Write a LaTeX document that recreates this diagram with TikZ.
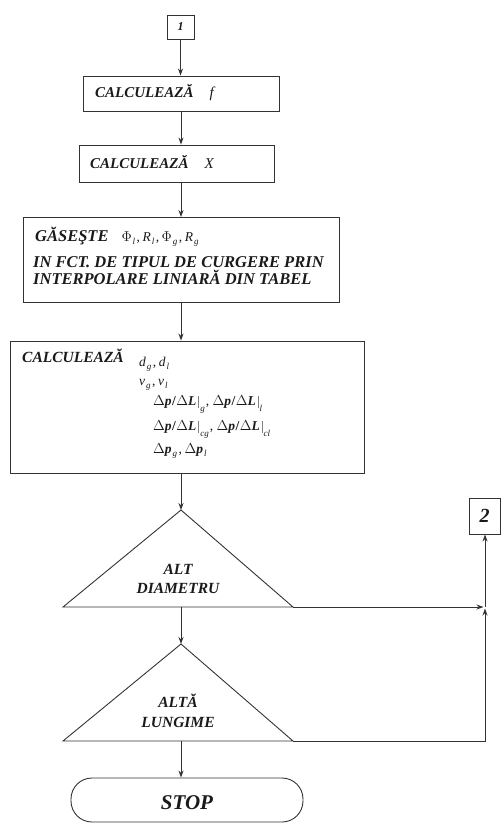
\documentclass[tikz,border=0pt]{standalone}
\usepackage{fontspec}
\setmainfont{Liberation Serif}
\usetikzlibrary{arrows.meta}
\definecolor{ln}{HTML}{333333}
\definecolor{tx}{HTML}{1A1A1A}
\newcommand{\sbx}[1]{\kern1pt\raisebox{-0.6ex}{\fontsize{9}{9}\selectfont\itshape #1}}
\newcommand{\sbl}[1]{\kern1.5pt\raisebox{-1.1ex}{\fontsize{9}{9}\selectfont\itshape #1}}
\newcommand{\cmm}{\kern1.5pt,\kern2.5pt}
\newcommand{\vbar}{{\color{gray}\rule[-3pt]{0.4pt}{12pt}}}
\newcommand{\dpl}{{\bfseries $\Delta$\textit{p}\kern0.5pt/\kern0.5pt$\Delta$\textit{L}}\kern2pt\vbar}
\begin{document}
\begin{tikzpicture}[x=1pt,y=-1pt,
  box/.style={draw=ln,line width=0.9pt,rectangle,inner sep=0pt},
  arr/.style={draw=ln,line width=0.9pt,-{Stealth[length=7pt,width=5pt]}},
  ln/.style={draw=ln,line width=0.9pt},
  lab/.style={inner sep=0pt,anchor=base west,text=tx,font=\fontsize{15}{18}\selectfont\bfseries\itshape},
  glab/.style={inner sep=0pt,anchor=base west,text=tx,font=\fontsize{16.5}{19}\selectfont\bfseries\itshape},
  clab/.style={inner sep=0pt,anchor=base,text=tx,font=\fontsize{15.5}{18}\selectfont\bfseries\itshape},
  mth/.style={inner sep=0pt,anchor=base west,text=tx,font=\fontsize{13.5}{16}\selectfont}]
\useasboundingbox (0,0) rectangle (502,823);
% boxes
\node[box,minimum width=27pt,minimum height=24pt] (b1) at (180.5,27) {};
\node[clab,anchor=center,font=\fontsize{12}{14}\selectfont\bfseries\itshape] at (b1.center) {1};
\node[box,minimum width=196pt,minimum height=35pt] (bf) at (181,93.5) {};
\node[box,minimum width=195pt,minimum height=37pt] (bX) at (176.5,163.5) {};
\node[box,minimum width=316pt,minimum height=85pt] (bg) at (181,260) {};
\node[box,minimum width=354pt,minimum height=132pt] (bc) at (187,407) {};
\node[box,minimum width=31pt,minimum height=36pt] (b2) at (484.5,516) {};
\node[clab,anchor=center,font=\fontsize{20}{22}\selectfont\bfseries\itshape] at (b2.center) {2};
\node[draw=ln,line width=0.9pt,rectangle,rounded corners=21pt,minimum width=232pt,minimum height=44pt,inner sep=0pt] (stop) at (187,800) {};
\node[clab,font=\fontsize{21}{24}\selectfont\bfseries\itshape] at (187,809) {STOP};
% triangles
\coordinate (t1top) at (181,510);
\coordinate (t1l) at (63,607);
\coordinate (t1r) at (293,607);
\coordinate (t1b) at (181,607);
\coordinate (t2top) at (181,644);
\coordinate (t2l) at (63,741);
\coordinate (t2r) at (293,741);
\coordinate (t2b) at (181,741);
\coordinate (j) at (485,607);
\draw[ln,line join=miter] (t1l) -- (t1top) -- (t1r) -- cycle;
\draw[ln,line join=miter] (t2l) -- (t2top) -- (t2r) -- cycle;
\node[clab] at (178,574) {ALT};
\node[clab] at (178,593) {DIAMETRU};
\node[clab] at (178,707) {ALTĂ};
\node[clab] at (178,727) {LUNGIME};
% texts
\node[lab] at (95,97) {CALCULEAZĂ\hspace{16pt}{\mdseries\itshape f}};
\node[lab] at (90,168) {CALCULEAZĂ\hspace{16pt}{\mdseries\itshape X}};
\node[glab] at (35,241) {GĂSEŞTE\hspace{13pt}{\mdseries\upshape\fontsize{13.5}{15}\selectfont $\Phi$\sbx{l}\cmm\textit{R}\sbx{l}\cmm$\Phi$\sbx{g}\cmm\textit{R}\sbx{g}}};
\node[glab] at (33,267) {IN FCT. DE TIPUL DE CURGERE PRIN};
\node[glab] at (33,284) {INTERPOLARE LINIARĂ DIN TABEL};
\node[lab,font=\fontsize{15.5}{18}\selectfont\bfseries\itshape] at (22,362) {CALCULEAZĂ};
\node[mth] at (139,366) {\textit{d}\sbx{g}\cmm\textit{d}\sbx{l}};
\node[mth] at (139,385) {\textit{v}\sbx{g}\cmm\textit{v}\sbx{l}};
\node[mth] at (153,405) {\dpl\sbl{g}\kern1pt, \dpl\sbl{l}};
\node[mth] at (153,430) {\dpl\sbl{cg}\kern1pt, \dpl\sbl{cl}};
\node[mth] at (153,453) {{\bfseries$\Delta$\textit{p}}\sbx{g}\cmm{\bfseries$\Delta$\textit{p}}\sbx{l}};
% connectors
\draw[arr] (b1.south) -- (b1.south |- bf.north);
\draw[arr] (bf.south) -- (bf.south |- bX.north);
\draw[arr] (bX.south -| bf.south) -- (bg.north);
\draw[arr] (bg.south) -- (bg.south |- bc.north);
\draw[arr] (t1top |- bc.south) -- (t1top);
\draw[arr] (t1b) -- (t2top);
\draw[arr] (t2b) -- (t2b |- stop.north);
\draw[arr,shorten >=1.5pt] (t1r) -- (j);
\draw[arr,shorten >=1.5pt] (t2r) -| (j);
\draw[arr] (j) -- (j |- b2.south);
\end{tikzpicture}
\end{document}
